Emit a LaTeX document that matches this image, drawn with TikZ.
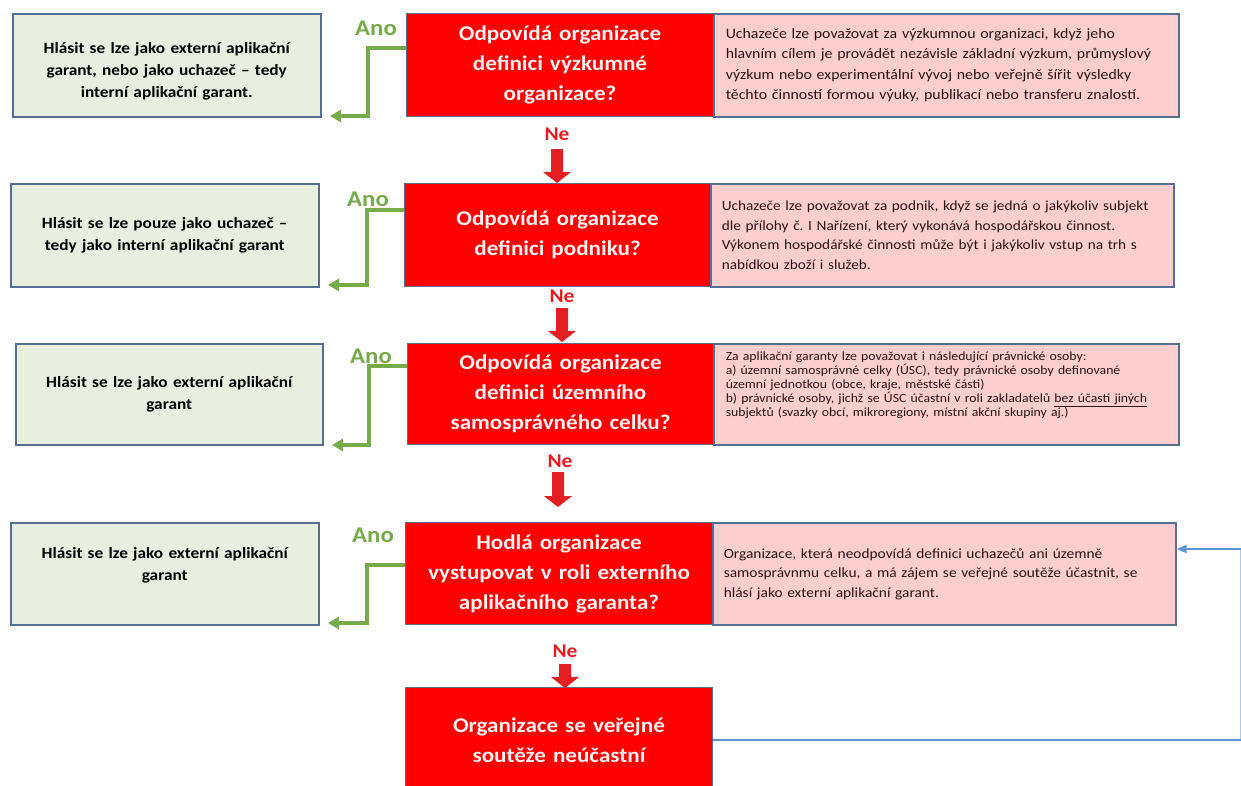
\documentclass[tikz,border=0pt]{standalone}
\usepackage{fontspec}
\setmainfont{Carlito}[FakeStretch=1.1]
\usetikzlibrary{arrows.meta}
\frenchspacing
\definecolor{gfill}{RGB}{232,239,222}
\definecolor{bordc}{RGB}{85,110,145}
\definecolor{rfill}{RGB}{255,0,0}
\definecolor{pfill}{RGB}{252,206,206}
\definecolor{anog}{RGB}{118,170,75}
\definecolor{neR}{RGB}{228,30,35}
\definecolor{bluel}{RGB}{95,150,210}
\definecolor{ptext}{RGB}{40,20,20}
\definecolor{rtext}{RGB}{255,242,242}
\newcommand\NeArrow[3]{\fill[neR] (#1-6,#2) -- (#1+6,#2) -- (#1+6,#3-11) -- (#1+14,#3-11) -- (#1,#3) -- (#1-14,#3-11) -- (#1-6,#3-11) -- cycle;}
\begin{document}
\begin{tikzpicture}[x=1pt,y=-1pt,
  gbox/.style={draw=bordc, line width=1.5pt, fill=gfill, anchor=north west, inner sep=0pt, align=center, text width=295pt, font=\fontsize{15.7}{22}\selectfont\bfseries},
  gtext/.style={inner sep=0pt, align=center, text width=295pt, font=\fontsize{15.7}{22}\selectfont\bfseries},
  rbox/.style={draw=bordc, line width=1pt, fill=rfill, anchor=north west, inner sep=0pt, align=center, text width=300pt, text=rtext, font=\fontsize{21}{30}\selectfont\bfseries},
  pbox/.style={draw=bordc, line width=1.5pt, fill=pfill, anchor=north west, inner sep=0pt, align=left, text width=441pt, text=ptext},
  ano/.style={text=anog, font=\fontsize{22.5}{26}\selectfont\bfseries, inner sep=0pt},
  ne/.style={text=neR, font=\fontsize{19.5}{22}\selectfont\bfseries, inner sep=0pt},
  garrow/.style={draw=anog, line width=3.5pt, -{Triangle[length=11pt,width=12pt]}},
  bluec/.style={draw=bluel, line width=2pt}
]
\useasboundingbox[fill=white] (0,0) rectangle (1241,785);

% row 1
\node[gbox, minimum width=308pt, minimum height=103pt] (g1) at (12,13) {};
\node[gtext] (g1t) at ([yshift=-6pt]g1.center) {Hlásit se lze jako externí aplikační\\garant, nebo jako uchazeč – tedy\\interní aplikační garant.};
\node[pbox, minimum width=465pt, minimum height=103pt, font=\fontsize{14.4}{20.5}\selectfont] (p1) at (713,13) {Uchazeče lze považovat za výzkumnou organizaci, když jeho\\hlavním cílem je provádět nezávisle základní výzkum, průmyslový\\výzkum nebo experimentální vývoj nebo veřejně šířit výsledky\\těchto činností formou výuky, publikací nebo transferu znalostí.};
\node[rbox, minimum width=307pt, minimum height=103pt] (r1) at (406,13) {Odpovídá organizace\\definici výzkumné\\organizace?};

% row 2
\node[gbox, minimum width=308pt, minimum height=103pt] (g2) at (10,183) {Hlásit se lze pouze jako uchazeč –\\tedy jako interní aplikační garant};
\node[pbox, minimum width=463pt, minimum height=103pt, font=\fontsize{13.9}{19.5}\selectfont] (p2) at (710,183) {Uchazeče lze považovat za podnik, když se jedná o jakýkoliv subjekt\\dle přílohy č. I Nařízení, který vykonává hospodářskou činnost.\\Výkonem hospodářské činnosti může být i jakýkoliv vstup na trh s\\nabídkou zboží i služeb.};
\node[rbox, minimum width=306pt, minimum height=103pt] (r2) at (404,183) {Odpovídá organizace\\definici podniku?};

% row 3
\node[gbox, minimum width=307pt, minimum height=101pt] (g3) at (15,343) {Hlásit se lze jako externí aplikační\\garant};
\node[pbox, minimum width=465pt, minimum height=101pt, font=\fontsize{12.5}{14}\selectfont] (p3) at (713,343) {Za aplikační garanty lze považovat i následující právnické osoby:\\a) územní samosprávné celky (ÚSC), tedy právnické osoby definované\\územní jednotkou (obce, kraje, městské části)\\b) právnické osoby, jichž se ÚSC účastní v roli zakladatelů \underline{bez účasti jiných}\\subjektů (svazky obcí, mikroregiony, místní akční skupiny aj.)\par\vspace*{18pt}};
\node[rbox, minimum width=306pt, minimum height=101pt] (r3) at (407,343) {Odpovídá organizace\\definici územního\\samosprávného celku?};

% row 4
\node[gbox, minimum width=308pt, minimum height=102pt] (g4) at (10,522) {};
\node[gtext] (g4t) at ([yshift=8pt]g4.center) {Hlásit se lze jako externí aplikační\\garant};
\node[pbox, minimum width=463pt, minimum height=102pt, font=\fontsize{14}{19.5}\selectfont] (p4) at (712,522) {Organizace, která neodpovídá definici uchazečů ani územně\\samosprávnmu celku, a má zájem se veřejné soutěže účastnit, se\\hlásí jako externí aplikační garant.};
\node[rbox, minimum width=307pt, minimum height=102pt] (r4) at (405,522) {Hodlá organizace\\vystupovat v roli externího\\aplikačního garanta?};

% row 5
\node[rbox, minimum width=307pt, minimum height=106pt] (r5) at (405,687) {Organizace se veřejné\\soutěže neúčastní};

% labels
\node[ano] (a1) at (376,28) {Ano};
\node[ano] (a2) at (368,199) {Ano};
\node[ano] (a3) at (371,356) {Ano};
\node[ano] (a4) at (373,535) {Ano};
\node[ne] (n1) at (557,134) {Ne};
\node[ne] (n2) at (562,296) {Ne};
\node[ne] (n3) at (560,461) {Ne};
\node[ne] (n4) at (565,651) {Ne};

% red Ne arrows
\NeArrow{557}{149}{183}
\NeArrow{562}{308}{342}
\NeArrow{558}{472}{507}
\NeArrow{565}{664}{688}

% green Ano arrows
\coordinate (t1) at (330,116);
\coordinate (t2) at (328,285);
\coordinate (t3) at (332,445);
\coordinate (t4) at (328,623);
\draw[garrow] (r1.west |- 0,48) -- (368,48) |- (t1);
\draw[garrow] (r2.west |- 0,210) -- (367,210) |- (t2);
\draw[garrow] (r3.west |- 0,366) -- (369,366) |- (t3);
\draw[garrow] (r4.west |- 0,565) -- (367,565) |- (t4);

% blue loop
\coordinate (bc) at (1240.5,740);
\draw[bluec] (r5.east |- 0,740) -- (bc);
\draw[bluec, draw opacity=0.5] (bc) -- (1240.5,549);
\draw[bluec, -{Triangle[length=10pt,width=8pt]}] (1240.5,549) -- (p4.east |- 0,549);
\end{tikzpicture}
\end{document}
